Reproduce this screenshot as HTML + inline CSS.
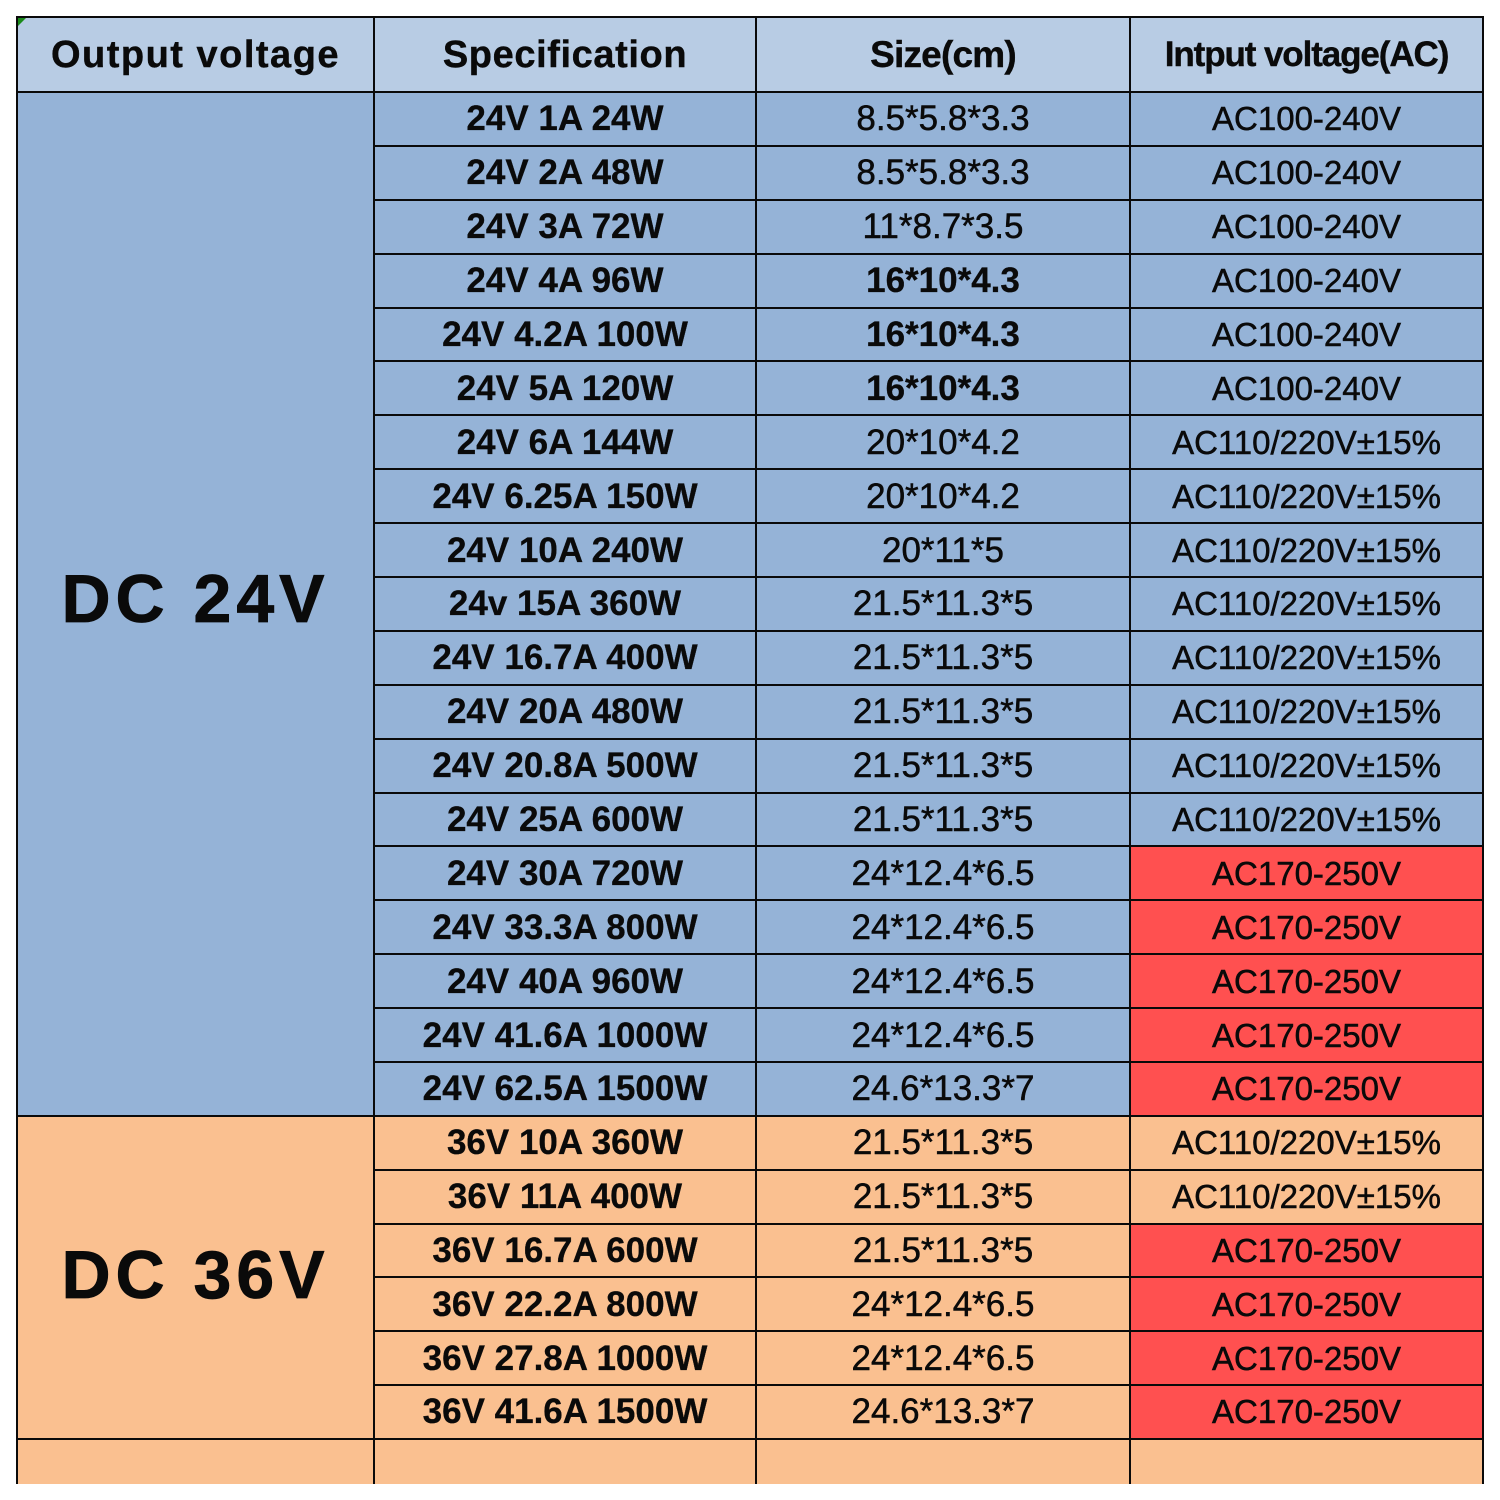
<!DOCTYPE html>
<html>
<head>
<meta charset="utf-8">
<style>
  html, body { margin:0; padding:0; background:#fff; }
  body { width:1500px; height:1500px; position:relative; overflow:hidden; font-family:"Liberation Sans", "DejaVu Sans", sans-serif; }
  .grid {
    position:absolute; left:16px; top:16px; width:1468px; height:1468px;
    box-sizing:border-box; padding:2px 2px 0 2px; background:#0a0a0a;
    display:grid; gap:2px;
    grid-template-columns: 355px 380px 372px 351px;
    grid-template-rows: 73px repeat(19, 51.9px) repeat(6, 51.8px) 44.1px;
  }
  .c { display:flex; align-items:center; justify-content:center; line-height:1; color:#0a0a0a; white-space:nowrap; font-size:33px; -webkit-text-stroke:0.5px #0a0a0a; }
  .h { background:#b8cce4; font-weight:bold; font-size:38px; -webkit-text-stroke:0.4px #0a0a0a; }
  .b { background:#95b3d7; }
  .o { background:#fac090; }
  .r { background:#ff5050; }
  .s { font-weight:bold; font-size:35px; -webkit-text-stroke:0.3px #0a0a0a; }
  .z { font-size:35px; }
  .zb { font-size:35px; font-weight:bold; -webkit-text-stroke:0.3px #0a0a0a; }
  .big { font-weight:bold; font-size:68px; letter-spacing:5px; -webkit-text-stroke:0.8px #0a0a0a; }
  .tri { position:absolute; left:18px; top:18px; width:0; height:0; border-top:8px solid #1a8a1a; border-right:8px solid transparent; }
</style>
</head>
<body>
<div class="grid">
  <div class="c h" style="grid-column:1;grid-row:1;letter-spacing:1.5px;">Output voltage</div>
  <div class="c b big" style="grid-column:1;grid-row:2 / span 19;padding-bottom:10px;">DC 24V</div>
  <div class="c o big" style="grid-column:1;grid-row:21 / span 6;padding-bottom:4px;">DC 36V</div>
  <div class="c o" style="grid-column:1;grid-row:27;"></div>

  <div class="c h" style="letter-spacing:0.6px;">Specification</div>
  <div class="c h" style="font-size:37px;letter-spacing:-0.8px;">Size(cm)</div>
  <div class="c h" style="font-size:35px;letter-spacing:-1.1px;">Intput voltage(AC)</div>

  <div class="c b s">24V 1A 24W</div><div class="c b z">8.5*5.8*3.3</div><div class="c b">AC100-240V</div>
  <div class="c b s">24V 2A 48W</div><div class="c b z">8.5*5.8*3.3</div><div class="c b">AC100-240V</div>
  <div class="c b s">24V 3A 72W</div><div class="c b z">11*8.7*3.5</div><div class="c b">AC100-240V</div>
  <div class="c b s">24V 4A 96W</div><div class="c b zb">16*10*4.3</div><div class="c b">AC100-240V</div>
  <div class="c b s">24V 4.2A 100W</div><div class="c b zb">16*10*4.3</div><div class="c b">AC100-240V</div>
  <div class="c b s">24V 5A 120W</div><div class="c b zb">16*10*4.3</div><div class="c b">AC100-240V</div>
  <div class="c b s">24V 6A 144W</div><div class="c b z">20*10*4.2</div><div class="c b">AC110/220V±15%</div>
  <div class="c b s">24V 6.25A 150W</div><div class="c b z">20*10*4.2</div><div class="c b">AC110/220V±15%</div>
  <div class="c b s">24V 10A 240W</div><div class="c b z">20*11*5</div><div class="c b">AC110/220V±15%</div>
  <div class="c b s">24v 15A 360W</div><div class="c b z">21.5*11.3*5</div><div class="c b">AC110/220V±15%</div>
  <div class="c b s">24V 16.7A 400W</div><div class="c b z">21.5*11.3*5</div><div class="c b">AC110/220V±15%</div>
  <div class="c b s">24V 20A 480W</div><div class="c b z">21.5*11.3*5</div><div class="c b">AC110/220V±15%</div>
  <div class="c b s">24V 20.8A 500W</div><div class="c b z">21.5*11.3*5</div><div class="c b">AC110/220V±15%</div>
  <div class="c b s">24V 25A 600W</div><div class="c b z">21.5*11.3*5</div><div class="c b">AC110/220V±15%</div>
  <div class="c b s">24V 30A 720W</div><div class="c b z">24*12.4*6.5</div><div class="c r">AC170-250V</div>
  <div class="c b s">24V 33.3A 800W</div><div class="c b z">24*12.4*6.5</div><div class="c r">AC170-250V</div>
  <div class="c b s">24V 40A 960W</div><div class="c b z">24*12.4*6.5</div><div class="c r">AC170-250V</div>
  <div class="c b s">24V 41.6A 1000W</div><div class="c b z">24*12.4*6.5</div><div class="c r">AC170-250V</div>
  <div class="c b s">24V 62.5A 1500W</div><div class="c b z">24.6*13.3*7</div><div class="c r">AC170-250V</div>

  <div class="c o s">36V 10A 360W</div><div class="c o z">21.5*11.3*5</div><div class="c o">AC110/220V±15%</div>
  <div class="c o s">36V 11A 400W</div><div class="c o z">21.5*11.3*5</div><div class="c o">AC110/220V±15%</div>
  <div class="c o s">36V 16.7A 600W</div><div class="c o z">21.5*11.3*5</div><div class="c r">AC170-250V</div>
  <div class="c o s">36V 22.2A 800W</div><div class="c o z">24*12.4*6.5</div><div class="c r">AC170-250V</div>
  <div class="c o s">36V 27.8A 1000W</div><div class="c o z">24*12.4*6.5</div><div class="c r">AC170-250V</div>
  <div class="c o s">36V 41.6A 1500W</div><div class="c o z">24.6*13.3*7</div><div class="c r">AC170-250V</div>

  <div class="c o"></div><div class="c o"></div><div class="c o"></div>
</div>
<div class="tri"></div>
</body>
</html>
